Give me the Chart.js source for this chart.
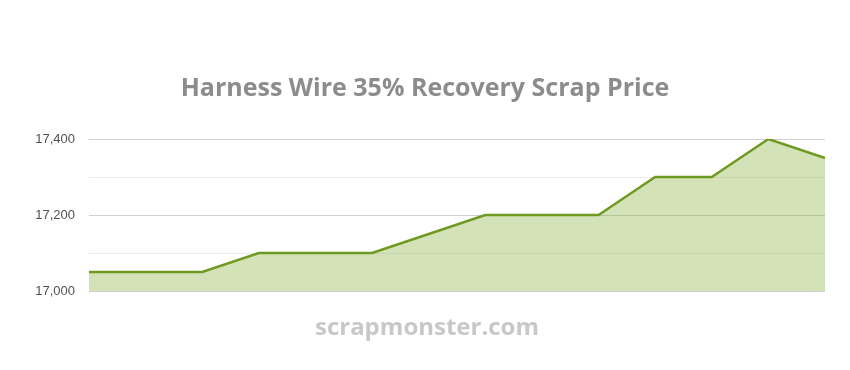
<!DOCTYPE html>
<html>
<head>
<meta charset="utf-8">
<script src="https://cdn.jsdelivr.net/npm/chart.js@4/dist/chart.umd.min.js"></script>
<style>
html,body{margin:0;padding:0;background:#fff;}
#wrap{position:relative;width:850px;height:370px;}
</style>
</head>
<body>
<div id="wrap"><canvas id="c" width="850" height="370"></canvas></div>
<script>
const chartTitle = "Harness Wire 35% Recovery Scrap Price";
const watermark = "scrapmonster.com";
const categories = ["1","2","3","4","5","6","7","8","9","10","11","12","13","14"];
const prices = [17050,17050,17050,17100,17100,17100,17150,17200,17200,17200,17300,17300,17400,17350];
const yMin = 17000, yMax = 17400, yStep = 100;
const labeledTicks = [17000, 17200, 17400];

const textPlugin = {
  id: 'texts',
  afterDraw(chart) {
    const ctx = chart.ctx;
    ctx.save();
    ctx.textAlign = 'center';
    ctx.textBaseline = 'middle';
    ctx.fillStyle = '#8c8c8c';
    ctx.font = 'bold 25px "Open Sans"';
    ctx.fillText(chartTitle, 425, 89);
    ctx.fillStyle = '#c8c8c8';
    ctx.font = 'bold 24px "Open Sans"';
    ctx.fillText(watermark, 427, 328);
    ctx.restore();
  }
};

new Chart(document.getElementById('c'), {
  type: 'line',
  data: {
    labels: categories,
    datasets: [{
      data: prices,
      borderColor: '#6f9a22',
      backgroundColor: 'rgba(135,180,60,0.37)',
      borderWidth: 2.4,
      fill: 'start',
      tension: 0,
      pointRadius: 0,
      pointHoverRadius: 0
    }]
  },
  options: {
    responsive: false,
    animation: false,
    layout: { padding: { top: 139, bottom: 79, left: 0, right: 25 } },
    plugins: { legend: { display: false }, title: { display: false }, tooltip: { enabled: false } },
    scales: {
      x: { display: false, offset: false },
      y: {
        min: yMin, max: yMax,
        border: { display: false },
        grid: {
          drawTicks: false,
          color: (c) => labeledTicks.includes(c.tick && c.tick.value) ? '#d0d0d0' : '#ebebeb',
          lineWidth: 1
        },
        ticks: {
          stepSize: yStep,
          padding: 14,
          color: '#505050',
          font: { family: 'Arial, "Liberation Sans"', size: 13 },
          callback: (v) => labeledTicks.includes(v) ? v.toLocaleString('en-US') : ''
        },
        afterFit: (s) => { s.width = 89; }
      }
    }
  },
  plugins: [textPlugin]
});
</script>
</body>
</html>
